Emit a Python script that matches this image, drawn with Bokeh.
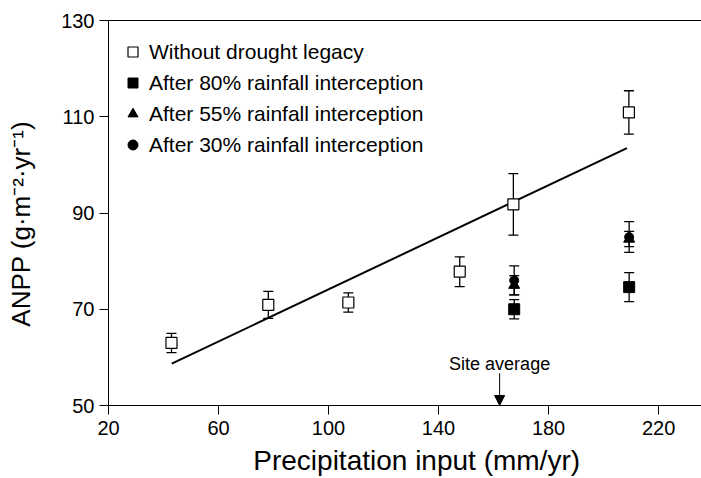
from bokeh.plotting import figure
from bokeh.models import (ColumnDataSource, Whisker, TeeHead, Legend, LegendItem,
                          LinearAxis, FixedTicker, Arrow, NormalHead, Label)
from bokeh.embed import file_html
from bokeh.resources import INLINE

# ---- data ----
x_ticks = [20, 60, 100, 140, 180, 220]
y_ticks = [50, 70, 90, 110, 130]

open_x = [42.9, 78.1, 107.2, 147.7, 167.2, 209.2]
open_y = [63.0, 70.9, 71.4, 77.8, 91.8, 110.9]
open_err = [2.0, 2.8, 2.0, 3.1, 6.4, 4.5]

s80_x = [167.5, 209.3]
s80_y = [70.0, 74.6]
s80_err = [2.0, 3.0]

s55_x = [167.5, 209.3]
s55_y = [75.0, 84.6]
s55_err = [2.0, 1.6]

s30_x = [167.5, 209.3]
s30_y = [76.0, 85.0]
s30_err = [3.0, 3.2]

fit_x = [43.0, 208.5]
fit_y = [58.7, 103.5]

site_avg_x = 162.2

FONT = "Liberation Sans"

p = figure(width=701, height=478, x_range=(20, 235.6), y_range=(50, 130),
           output_backend="svg", toolbar_location=None,
           min_border_left=108, min_border_right=0, min_border_top=20,
           min_border_bottom=73)
p.outline_line_color = None
p.grid.visible = False
p.background_fill_color = "white"
p.border_fill_color = "white"

for ax, ticks in ((p.xaxis[0], x_ticks), (p.yaxis[0], y_ticks)):
    ax.ticker = FixedTicker(ticks=ticks)
    ax.minor_tick_line_color = None
    ax.major_tick_in = 0
    ax.major_tick_out = 9
    ax.major_tick_line_color = "black"
    ax.axis_line_color = "black"
    ax.major_label_text_font = FONT
    ax.major_label_text_font_size = "20px"
    ax.major_label_text_color = "black"
    ax.axis_label_text_font = FONT
    ax.axis_label_text_font_style = "normal"
    ax.axis_label_text_color = "black"

p.xaxis[0].major_label_standoff = 6
p.xaxis[0].axis_label = "\u00a0\u00a0\u00a0Precipitation input (mm/yr)"
p.xaxis[0].axis_label_text_font_size = "28px"
p.xaxis[0].axis_label_text_line_height = 0.8
p.xaxis[0].axis_label_standoff = 7
p.yaxis[0].major_label_standoff = 5
p.yaxis[0].axis_label = "ANPP (g\u00b7m\u207b\u00b2\u00b7yr\u207b\u00b9)\u00a0\u00a0\u00a0"
p.yaxis[0].axis_label_text_font_size = "26px"
p.yaxis[0].axis_label_standoff = 22

top = LinearAxis(ticker=FixedTicker(ticks=[]), major_label_text_font_size="0px",
                 major_tick_out=0, major_tick_in=0, minor_tick_out=0, minor_tick_in=0,
                 axis_line_color="black")
p.add_layout(top, "above")

# regression line
p.line(fit_x, fit_y, line_color="black", line_width=2)

def add_whisker(xs, ys, errs):
    src = ColumnDataSource(dict(x=xs, lo=[y - e for y, e in zip(ys, errs)],
                                hi=[y + e for y, e in zip(ys, errs)]))
    w = Whisker(source=src, base="x", lower="lo", upper="hi", dimension="height",
                line_color="black", line_width=1.3,
                lower_head=TeeHead(size=10, line_color="black", line_width=1.3),
                upper_head=TeeHead(size=10, line_color="black", line_width=1.3))
    p.add_layout(w)

add_whisker(open_x, open_y, open_err)
add_whisker(s80_x, s80_y, s80_err)
add_whisker(s55_x, s55_y, s55_err)
add_whisker(s30_x, s30_y, s30_err)

r_open = p.scatter(open_x, open_y, marker="square", size=11, fill_color="white",
                   line_color="black", line_width=1.2)
r80 = p.scatter(s80_x, s80_y, marker="square", size=11, fill_color="black",
                line_color="black")
r55 = p.scatter(s55_x, s55_y, marker="triangle", size=11, fill_color="black",
                line_color="black")
r30 = p.scatter(s30_x, s30_y, marker="circle", size=9, fill_color="black",
                line_color="black")

legend = Legend(items=[
    LegendItem(label="Without drought legacy", renderers=[r_open]),
    LegendItem(label="After 80% rainfall interception", renderers=[r80]),
    LegendItem(label="After 55% rainfall interception", renderers=[r55]),
    LegendItem(label="After 30% rainfall interception", renderers=[r30]),
], location=(12, 248), padding=0, margin=0, spacing=6, glyph_width=25, glyph_height=25,
   label_standoff=4, label_height=25, label_text_font=FONT, label_text_font_size="21px",
   label_text_color="black", border_line_color=None, background_fill_alpha=0)
p.add_layout(legend, "center")

p.add_layout(Arrow(x_start=site_avg_x, y_start=56.7, x_end=site_avg_x, y_end=50,
                   line_color="black", line_width=1,
                   end=NormalHead(size=10, fill_color="black", line_color="black")))
p.add_layout(Label(x=site_avg_x, y=58.7, text="Site average", text_align="center",
                   text_baseline="alphabetic", text_font=FONT, text_font_size="18px",
                   text_color="black"))

open("out.html", "w").write(file_html(p, INLINE))
